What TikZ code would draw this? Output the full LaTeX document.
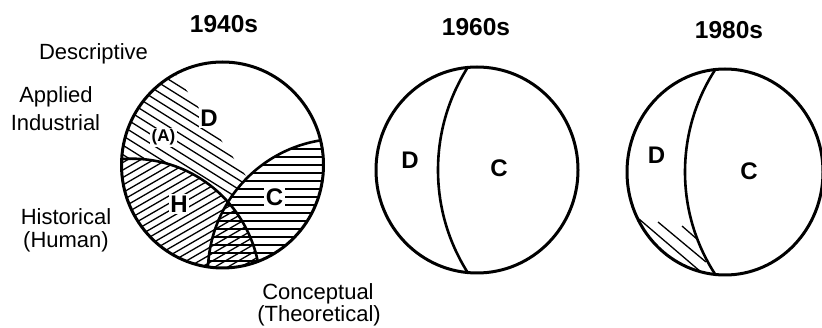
\documentclass[tikz,border=0pt]{standalone}
\usepackage{fontspec}
\setmainfont{Liberation Sans}
\usetikzlibrary{calc}

\begin{document}
\begin{tikzpicture}[x=1pt, y=-1pt,
    outline/.style={line width=3pt},
    divide/.style={line width=2.6pt},
    hatch/.style={line width=1.3pt},
    title/.style={font=\bfseries\fontsize{24.5}{26}\selectfont, anchor=base},
    field/.style={font=\fontsize{22}{24}\selectfont, anchor=base},
    region/.style={font=\bfseries\fontsize{24}{26}\selectfont, fill=white, inner sep=1.5pt},
    small region/.style={region, font=\bfseries\fontsize{17}{19}\selectfont}]
    \useasboundingbox (0,0) rectangle (822,328);

    % 1940s
    \coordinate (c1) at (222.5,165);
    \coordinate (h1) at (131.7,287.4);
    \coordinate (k1) at (341.8,272.6);
    % descriptive band
    \begin{scope}
        \clip (c1) ellipse [x radius=101, y radius=103];
        \clip (160,52) -- (262,199) -- (262,330) -- (0,330) -- (0,52) -- cycle;
        \begin{scope}[shift={(c1)}, rotate=-32]
            \foreach \s in {-124,-116,...,124}
                \draw[hatch] (-160,\s) -- (160,\s);
        \end{scope}
    \end{scope}
    % historical and conceptual
    \begin{scope}
        \clip (c1) ellipse [x radius=101, y radius=103];
        \fill[white] (h1) circle (128.7) (k1) circle (133.9);
        \begin{scope}
            \clip (h1) circle (128.7);
            \begin{scope}[shift={(c1)}, rotate=30]
                \foreach \s in {-143,-136.5,...,143}
                    \draw[hatch] (-160,\s) -- (160,\s);
            \end{scope}
        \end{scope}
        \begin{scope}
            \clip (k1) circle (133.9);
            \foreach \y in {141,149,...,269}
                \draw[hatch] (190,\y) -- (330,\y);
        \end{scope}
        \draw[divide] (h1) circle (128.7) (k1) circle (133.9);
    \end{scope}
    \draw[outline] (c1) ellipse [x radius=101, y radius=103];

    % 1960s
    \coordinate (c2) at (477,170);
    \begin{scope}
        \clip (c2) ellipse [x radius=101, y radius=103];
        \draw[divide] (629.8,170) circle (191.8);
    \end{scope}
    \draw[outline] (c2) ellipse [x radius=101, y radius=103];

    % 1980s
    \coordinate (c3) at (725,172);
    \begin{scope}
        \clip (c3) ellipse [x radius=98, y radius=103];
        \draw[divide] (873.4,172) circle (188.4);
        \draw[hatch] (639,219) -- (701,272);
        \draw[hatch] (658,222) -- (706,262);
        \draw[hatch] (682,226) -- (698,240);
    \end{scope}
    \draw[outline] (c3) ellipse [x radius=98, y radius=103];

    % titles
    \node[title] (t1) at (224,33) {1940s};
    \node[title] (t2) at (476,36) {1960s};
    \node[title] (t3) at (729,39) {1980s};

    % fields
    \node[field] (desc) at (93.5,60) {Descriptive};
    \node[field] (appl) at (56,103) {Applied};
    \node[field] (indu) at (55.5,131) {Industrial};
    \node[field] (hist) at (66,225) {Historical};
    \node[field] (huma) at (66,248) {(Human)};
    \node[field] (conc) at (318,300) {Conceptual};
    \node[field] (theo) at (319,322) {(Theoretical)};

    % regions
    \node[region] (d1) at (209,118) {D};
    \node[small region] (a1) at (163.5,137.5) {(A)};
    \node[region] (h1l) at (179,204) {H};
    \node[region] (k1l) at (274.5,197.5) {C};
    \node[region] (d2) at (410,160) {D};
    \node[region] (k2) at (499,168) {C};
    \node[region] (d3) at (656.5,155.5) {D};
    \node[region] (k3) at (749,171) {C};
\end{tikzpicture}
\end{document}
